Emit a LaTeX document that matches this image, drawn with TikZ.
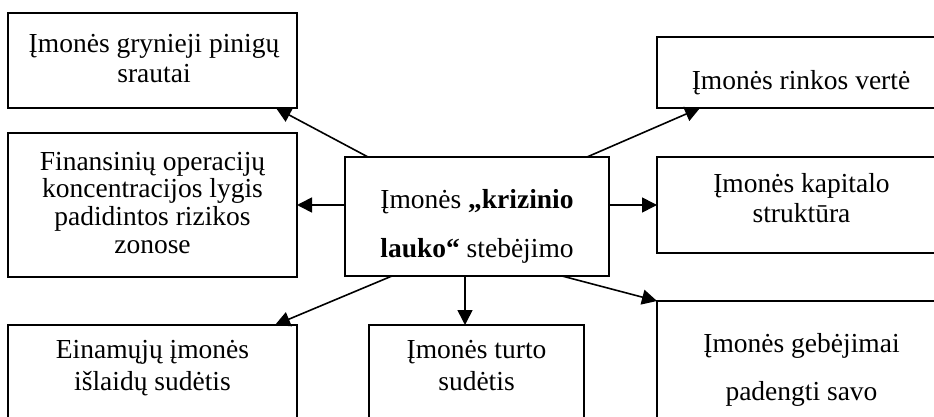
\documentclass[tikz,border=0pt]{standalone}
\usepackage{fontspec}
\setmainfont{Liberation Serif}
\usetikzlibrary{arrows.meta}
\tikzset{
  box/.style={draw=black, line width=1.8pt, rectangle, inner sep=0pt, outer sep=0pt, minimum width=289pt},
  txt/.style={anchor=north, align=center, inner sep=0pt, font=\fontsize{27.5}{30}\selectfont},
  arr/.style={line width=1.6pt, -{Triangle[length=15pt,width=15pt]}}
}
\begin{document}
\begin{tikzpicture}[x=1pt,y=-1pt]
\clip (0,0) rectangle (934,417);
\fill[white] (0,0) rectangle (934,417);
% boxes
\node[box, minimum height=95pt] (b1) at (152.5,60.5) {};
\node[box, minimum height=71pt] (b2) at (801.5,72.5) {};
\node[box, minimum height=144pt] (b3) at (152.5,205) {};
\node[box, minimum width=264pt, minimum height=119pt] (c) at (477,216.5) {};
\node[box, minimum height=96pt] (b4) at (801.5,205) {};
\node[box, minimum height=120pt] (b5) at (152.5,385) {};
\node[box, minimum width=215pt, minimum height=120pt] (b6) at (476.5,385) {};
\node[box, minimum height=144pt] (b7) at (801.5,373) {};
% texts
\node[txt] (t1) at (154,31) {\strut Įmonės grynieji pinigų\\\strut srautai};
\node[txt] (t2) at (801,68) {\strut Įmonės rinkos vertė};
\node[txt] (t3) at (152.5,149) {\strut Finansinių operacijų\\[-2.4pt]\strut koncentracijos lygis\\[-2.4pt]\strut padidintos rizikos\\[-2.4pt]\strut zonose};
\node[txt] (tc) at (477,187) {\strut Įmonės \textbf{„krizinio}\\[19pt]\strut\textbf{lauko“} stebėjimo};
\node[txt] (t4) at (801.5,171) {\strut Įmonės kapitalo\\\strut struktūra};
\node[txt] (t5) at (152.5,337) {\strut Einamųjų įmonės\\[2pt]\strut išlaidų sudėtis};
\node[txt] (t6) at (476.5,337) {\strut Įmonės turto\\[2pt]\strut sudėtis};
\node[txt] (t7) at (801.5,331) {\strut Įmonės gebėjimai\\[18pt]\strut padengti savo};
% connectors
\coordinate (cL) at ([yshift=11.5pt]c.west);
\coordinate (cR) at ([yshift=11.5pt]c.east);
\coordinate (cB) at ([xshift=-12pt]c.south);
\draw[arr] ([xshift=23pt]c.north west) -- ([xshift=-21pt]b1.south east);
\draw[arr] ([xshift=-22pt]c.north east) -- ([xshift=43pt]b2.south west);
\draw[arr] (cL) -- (cL -| b3.east);
\draw[arr] (cR) -- (cR -| b4.west);
\draw[arr] ([xshift=47pt]c.south west) -- ([xshift=-22pt]b5.north east);
\draw[arr] (cB) -- (cB |- b6.north);
\draw[arr] ([xshift=-47pt]c.south east) -- (b7.north west);
\end{tikzpicture}
\end{document}
